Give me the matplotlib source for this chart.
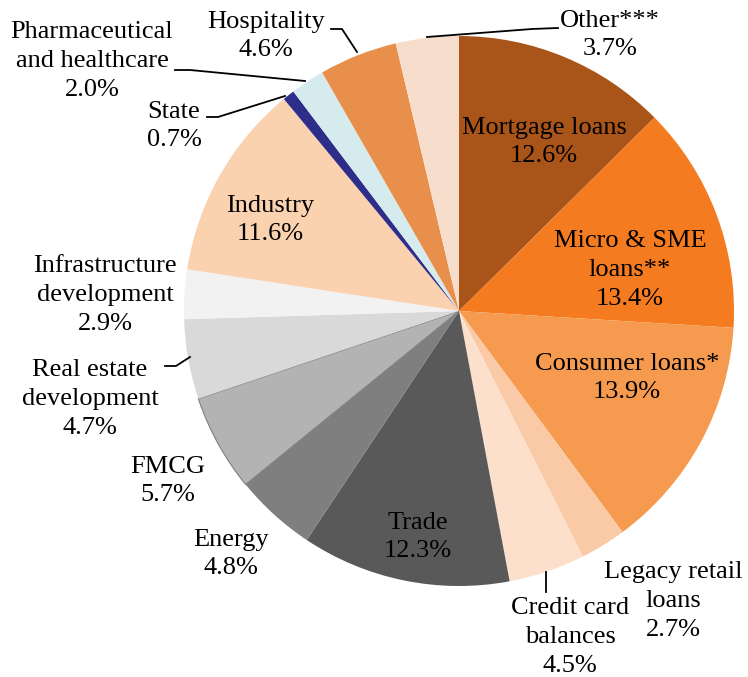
import matplotlib.pyplot as plt

labels = ['Mortgage loans', 'Micro & SME\nloans**', 'Consumer loans*', 'Legacy retail\nloans',
          'Credit card\nbalances', 'Trade', 'Energy', 'FMCG', 'Real estate\ndevelopment',
          'Infrastructure\ndevelopment', 'Industry', 'State', 'Pharmaceutical\nand healthcare',
          'Hospitality', 'Other***']
shares = [12.6, 13.4, 13.9, 2.7, 4.5, 12.3, 4.8, 5.7, 4.7, 2.9, 11.6, 0.7, 2.0, 4.6, 3.7]
colors = ['#A95418', '#F47B20', '#F59A4E', '#FAC9A5', '#FCE0CB', '#595959', '#7F7F7F',
          '#B3B3B3', '#D9D9D9', '#F2F2F2', '#FBD2B0', '#2E2E8A', '#D5EBEE', '#E8904B', '#F7DDCB']

# label centres in pixels (x, y from top) and leader lines
label_px = [(544, 142), (630, 270), (627, 378), (673, 601), (570, 637), (418, 537),
            (231, 554), (168, 481), (90, 399), (105, 295), (270, 220), (174, 126),
            (92, 61), (266, 36), (610, 35)]
leaders = {
    4: [(546, 572), (546, 592)],
    8: [(165, 366), (176, 366), (190, 357)],
    11: [(207, 117), (218, 117), (285, 96)],
    12: [(175, 70), (190, 70), (305, 81)],
    13: [(331, 29), (342, 29), (357, 52)],
    14: [(558, 28), (532, 29), (427, 37)],
}

CX, CY, R = 459, 311, 275
W, H = 748, 677


def px(x, y):
    return (x - CX) / R, (CY - y) / R


plt.rcParams['font.family'] = ['Liberation Serif', 'DejaVu Serif']
fig = plt.figure(figsize=(W / 100, H / 100), dpi=100)
ax = fig.add_axes([0, 0, 1, 1])
wedges, _ = ax.pie(shares, colors=colors, startangle=90, counterclock=False, radius=1,
                   wedgeprops=dict(linewidth=0))
wedges[7].set_edgecolor('#7F7F7F')
wedges[7].set_linewidth(0.8)

for i, (lab, val) in enumerate(zip(labels, shares)):
    x, y = px(*label_px[i])
    ax.text(x, y, f'{lab}\n{val:.1f}%', ha='center', va='center', fontsize=19,
            linespacing=1.4, color='black')

for pts in leaders.values():
    xs, ys = zip(*[px(*p) for p in pts])
    ax.plot(xs, ys, color='black', lw=1.3)

ax.set_xlim(-CX / R, (W - CX) / R)
ax.set_ylim((CY - H) / R, CY / R)
ax.set_aspect('equal')
ax.axis('off')
fig.savefig('out.png', dpi=100)
